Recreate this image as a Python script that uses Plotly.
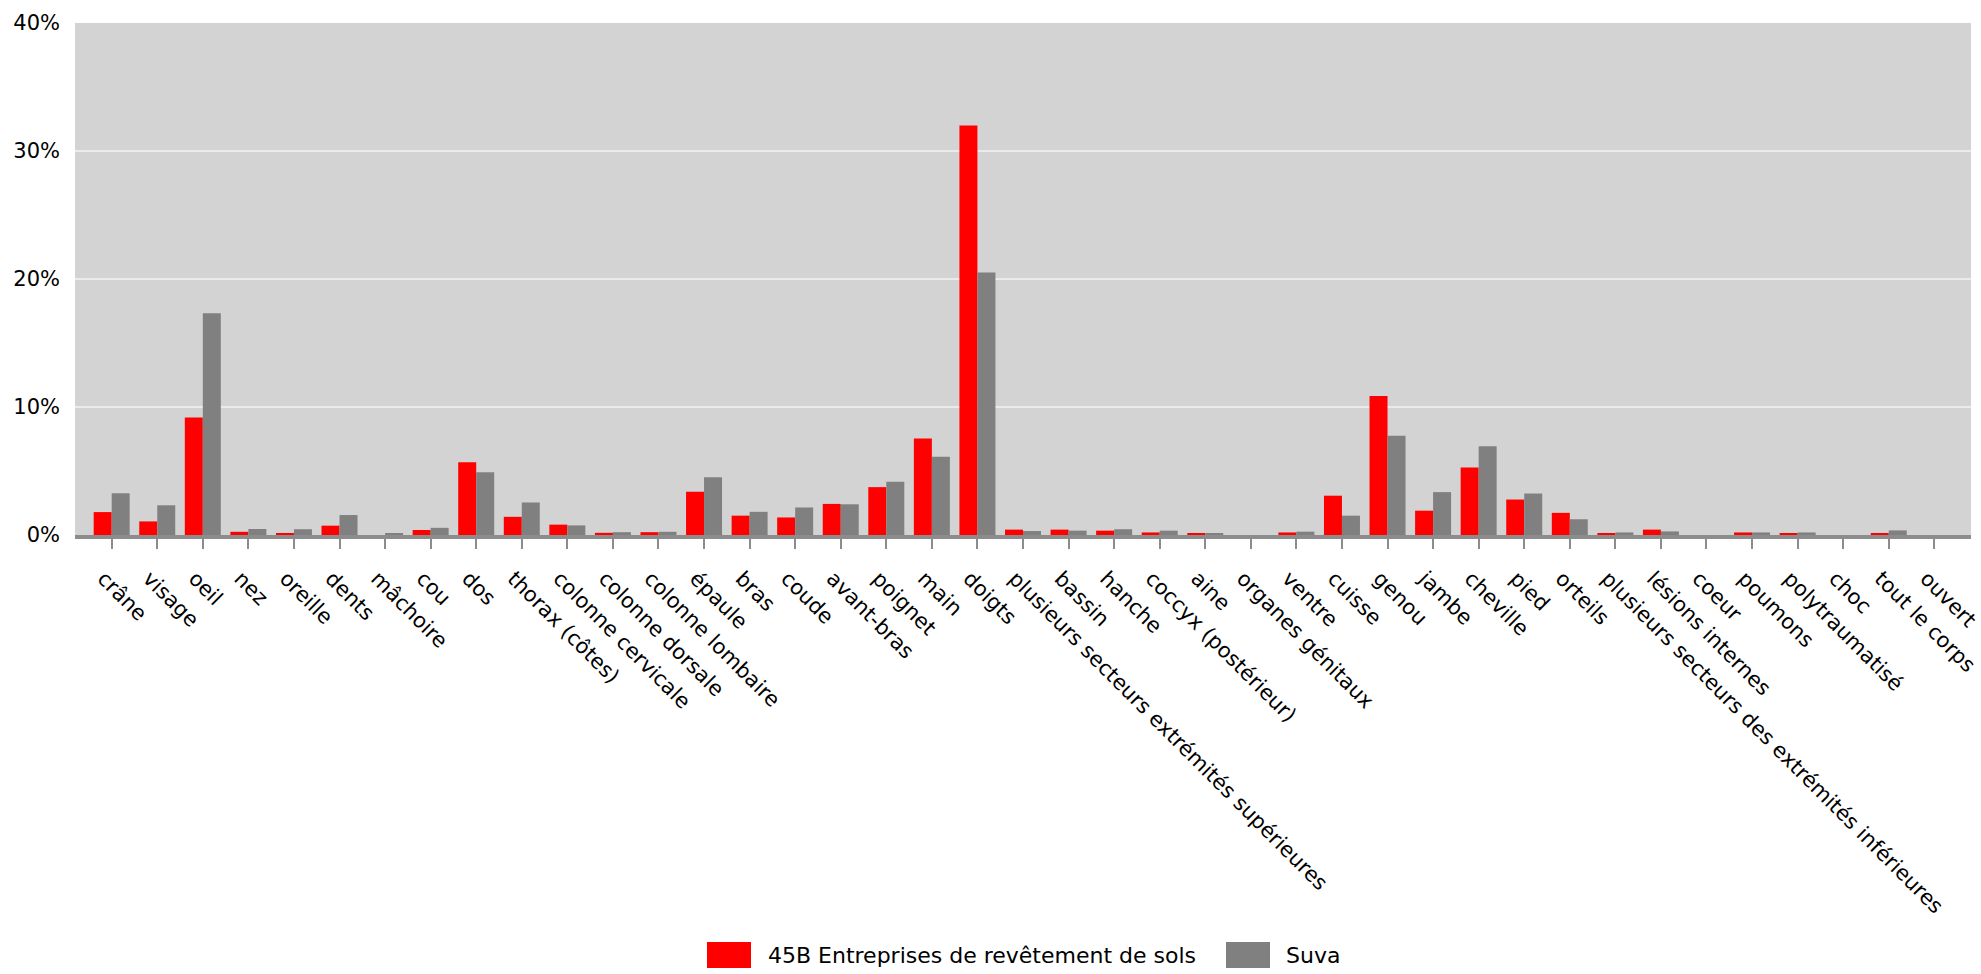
import plotly.graph_objects as go

# ---- data ----
categories = [
    "crâne", "visage", "oeil", "nez", "oreille", "dents", "mâchoire", "cou", "dos",
    "thorax (côtes)", "colonne cervicale", "colonne dorsale", "colonne lombaire",
    "épaule", "bras", "coude", "avant-bras", "poignet", "main", "doigts",
    "plusieurs secteurs extrémités supérieures", "bassin", "hanche", "coccyx (postérieur)",
    "aine", "organes génitaux", "ventre", "cuisse", "genou", "jambe", "cheville", "pied",
    "orteils", "plusieurs secteurs des extrémités inférieures", "lésions internes", "coeur",
    "poumons", "polytraumatisé", "choc", "tout le corps", "ouvert",
]
series_names = ["45B Entreprises de revêtement de sols", "Suva"]
values_45b = [
    1.79, 1.06, 9.18, 0.25, 0.11, 0.73, 0.0, 0.39, 5.69,
    1.42, 0.81, 0.17, 0.22,
    3.38, 1.51, 1.37, 2.43, 3.74, 7.53, 32.0,
    0.42, 0.42, 0.34, 0.20,
    0.11, 0.0, 0.20, 3.07, 10.85, 1.90, 5.27, 2.77,
    1.73, 0.11, 0.42, 0.0,
    0.20, 0.10, 0.0, 0.10, 0.0,
]
values_suva = [
    3.26, 2.32, 17.33, 0.47, 0.45, 1.56, 0.11, 0.56, 4.91,
    2.54, 0.75, 0.22, 0.25,
    4.52, 1.81, 2.15, 2.40, 4.16, 6.11, 20.5,
    0.31, 0.34, 0.45, 0.34,
    0.14, 0.0, 0.26, 1.51, 7.75, 3.35, 6.94, 3.24,
    1.23, 0.20, 0.28, 0.0,
    0.20, 0.20, 0.0, 0.36, 0.0,
]
y_tick_values = [0, 10, 20, 30, 40]
y_tick_labels = ["0%", "10%", "20%", "30%", "40%"]
series_colors = ["#ff0000", "#808080"]

# ---- layout constants (pixels) ----
W, H = 1981, 974
ML, MR, MT, MB = 75, 10, 23, 439
FONT = "DejaVu Sans"


def px2paper(px, py):
    return (px - ML) / (W - ML - MR), (H - MB - py) / (H - MT - MB)


fig = go.Figure()
for name, vals, col in zip(series_names, [values_45b, values_suva], series_colors):
    fig.add_trace(go.Bar(
        x=categories, y=vals, name=name,
        marker=dict(color=col, line=dict(width=0)),
        showlegend=False,
    ))

# custom legend (large swatches like the reference)
shapes = []
annotations = []
legend_items = [
    (series_names[0], series_colors[0], 707, 766),
    (series_names[1], series_colors[1], 1226, 1284),
]
for name, col, sx, tx in legend_items:
    x0, y0 = px2paper(sx, 968)
    x1, y1 = px2paper(sx + 44, 942)
    shapes.append(dict(type="rect", xref="paper", yref="paper", x0=x0, y0=y0, x1=x1, y1=y1,
                       fillcolor=col, line=dict(width=0)))
    ax, ay = px2paper(tx, 955)
    annotations.append(dict(xref="paper", yref="paper", x=ax, y=ay, text=name, showarrow=False,
                            xanchor="left", yanchor="middle",
                            font=dict(family=FONT, size=22, color="#000000")))

fig.update_layout(
    width=W, height=H,
    margin=dict(l=ML, r=MR, t=MT, b=MB, autoexpand=False),
    paper_bgcolor="#ffffff",
    plot_bgcolor="#d3d3d3",
    barmode="group",
    bargap=0.21,
    bargroupgap=0.0,
    font=dict(family=FONT, size=21, color="#000000"),
    shapes=shapes,
    annotations=annotations,
    xaxis=dict(
        type="category",
        range=[-0.805, len(categories) - 1 + 0.805],
        tickangle=45,
        showgrid=False,
        showline=True, linecolor="#8c8c8c", linewidth=4,
        ticks="outside", ticklen=10, tickwidth=1.5, tickcolor="#8c8c8c",
        ticklabelshift=-8, ticklabelstandoff=9,
        tickfont=dict(family=FONT, size=21, color="#000000"),
        zeroline=False,
    ),
    yaxis=dict(
        range=[0, 40],
        tickvals=y_tick_values, ticktext=y_tick_labels,
        showgrid=True, gridcolor="#ebebeb", gridwidth=2,
        zeroline=False, showline=False, ticks="",
        ticklabelstandoff=14,
        tickfont=dict(family=FONT, size=21, color="#000000"),
    ),
)

fig.write_html("out.html", config={"displayModeBar": False},
               post_script="document.body.style.margin='0';")
